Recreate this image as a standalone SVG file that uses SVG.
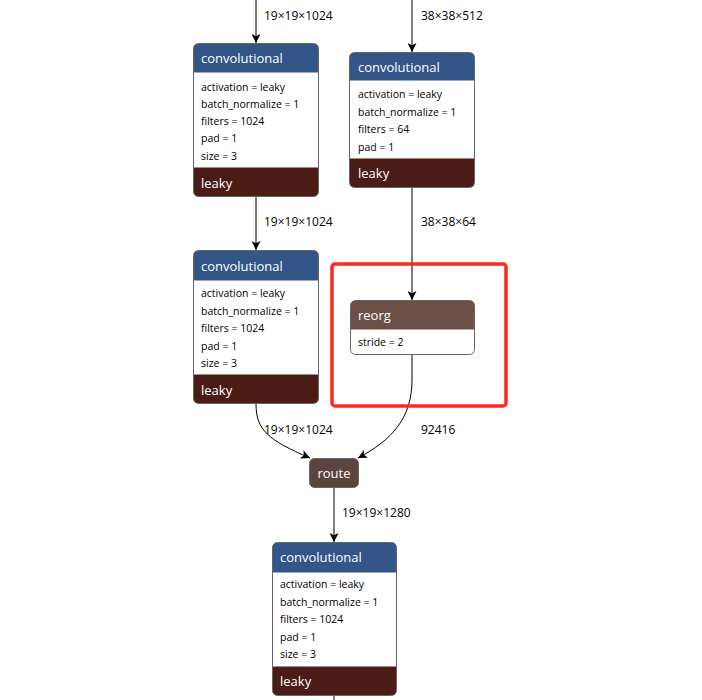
<svg xmlns="http://www.w3.org/2000/svg" width="702" height="700" viewBox="0 0 702 700">
<defs>
<style>
text{font-family:"Open Sans","Noto Sans","DejaVu Sans",sans-serif}
.hd{fill:#fff;font-size:13px}
.at{fill:#000;font-size:10.5px}
.lb{fill:#000;font-size:12px}
.box{fill:#fff;stroke:#666;stroke-width:1}
.conv{fill:#335588}
.act{fill:#4b1b16}
.reorg{fill:#6c4f47}
.route{fill:#5b443d}
.edge{fill:none;stroke:#000;stroke-width:1}
</style>
<marker id="ah" viewBox="0 0 10 10" refX="10" refY="5" markerWidth="9" markerHeight="9" markerUnits="userSpaceOnUse" orient="auto">
<path d="M0,0 L10,5 L0,10 L2.5,5 z" fill="#000"/>
</marker>
<clipPath id="c1"><rect x="193.5" y="43.5" width="125" height="153" rx="5"/></clipPath>
<clipPath id="c2"><rect x="349.5" y="52.5" width="125" height="135" rx="5"/></clipPath>
<clipPath id="c3"><rect x="193.5" y="250.5" width="125" height="153" rx="5"/></clipPath>
<clipPath id="c4"><rect x="350.5" y="300.5" width="124" height="54" rx="5"/></clipPath>
<clipPath id="c6"><rect x="272.5" y="542.5" width="124" height="153" rx="5"/></clipPath>
</defs>
<rect width="702" height="700" fill="#fff"/>

<g id="edges">
<path class="edge" d="M256,0 L256,43" marker-end="url(#ah)"/>
<path class="edge" d="M412,0 L412,52" marker-end="url(#ah)"/>
<path class="edge" d="M256,197 L256,250" marker-end="url(#ah)"/>
<path class="edge" d="M412,188 L412,300" marker-end="url(#ah)"/>
<path class="edge" d="M256,404 C256,430 268,440 310,458" marker-end="url(#ah)"/>
<path class="edge" d="M412,355 L412,380 C412,418 392,440 358,458" marker-end="url(#ah)"/>
<path class="edge" d="M334,488 L334,542" marker-end="url(#ah)"/>
<path class="edge" d="M334,696 L334,700"/>
<text class="lb" x="264" y="20">19×19×1024</text>
<text class="lb" x="421" y="20">38×38×512</text>
<text class="lb" x="264" y="226">19×19×1024</text>
<text class="lb" x="421" y="226">38×38×64</text>
<text class="lb" x="264" y="434">19×19×1024</text>
<text class="lb" x="421" y="434">92416</text>
<text class="lb" x="342" y="517">19×19×1280</text>
</g>

<g id="conv1">
<g clip-path="url(#c1)">
<rect x="193.5" y="43.5" width="125" height="153" fill="#fff"/>
<rect class="conv" x="193.5" y="43.5" width="125" height="29"/>
<rect class="act" x="193.5" y="167.5" width="125" height="29"/>
</g>
<rect class="box" x="193.5" y="43.5" width="125" height="153" rx="5" style="fill:none"/>
<text class="hd" x="201" y="63">convolutional</text>
<text class="at" x="201" y="91">activation = leaky</text>
<text class="at" x="201" y="108">batch_normalize = 1</text>
<text class="at" x="201" y="125">filters = 1024</text>
<text class="at" x="201" y="142">pad = 1</text>
<text class="at" x="201" y="160">size = 3</text>
<text class="hd" x="201" y="188">leaky</text>
</g>

<g id="conv2">
<g clip-path="url(#c2)">
<rect x="349.5" y="52.5" width="125" height="135" fill="#fff"/>
<rect class="conv" x="349.5" y="52.5" width="125" height="28"/>
<rect class="act" x="349.5" y="158.5" width="125" height="29"/>
</g>
<rect class="box" x="349.5" y="52.5" width="125" height="135" rx="5" style="fill:none"/>
<text class="hd" x="358" y="72">convolutional</text>
<text class="at" x="358" y="98">activation = leaky</text>
<text class="at" x="358" y="116">batch_normalize = 1</text>
<text class="at" x="358" y="133">filters = 64</text>
<text class="at" x="358" y="151">pad = 1</text>
<text class="hd" x="358" y="178">leaky</text>
</g>

<g id="conv3">
<g clip-path="url(#c3)">
<rect x="193.5" y="250.5" width="125" height="153" fill="#fff"/>
<rect class="conv" x="193.5" y="250.5" width="125" height="30"/>
<rect class="act" x="193.5" y="374.5" width="125" height="29"/>
</g>
<rect class="box" x="193.5" y="250.5" width="125" height="153" rx="5" style="fill:none"/>
<text class="hd" x="201" y="271">convolutional</text>
<text class="at" x="201" y="297">activation = leaky</text>
<text class="at" x="201" y="315">batch_normalize = 1</text>
<text class="at" x="201" y="332">filters = 1024</text>
<text class="at" x="201" y="350">pad = 1</text>
<text class="at" x="201" y="367">size = 3</text>
<text class="hd" x="201" y="395">leaky</text>
</g>

<g id="reorg">
<g clip-path="url(#c4)">
<rect x="350.5" y="300.5" width="124" height="54" fill="#fff"/>
<rect class="reorg" x="350.5" y="300.5" width="124" height="29"/>
</g>
<rect class="box" x="350.5" y="300.5" width="124" height="54" rx="5" style="fill:none"/>
<text class="hd" x="358" y="320">reorg</text>
<text class="at" x="358" y="346">stride = 2</text>
</g>

<g id="highlight">
<rect x="332" y="264" width="174" height="142" rx="3" fill="none" stroke="#ff2a1f" stroke-width="3.5"/>
</g>

<g id="route">
<rect class="route" x="309.5" y="458.5" width="49" height="29" rx="5" stroke="#666" stroke-width="1"/>
<text class="hd" x="334" y="478" text-anchor="middle">route</text>
</g>

<g id="conv4">
<g clip-path="url(#c6)">
<rect x="272.5" y="542.5" width="124" height="153" fill="#fff"/>
<rect class="conv" x="272.5" y="542.5" width="124" height="30"/>
<rect class="act" x="272.5" y="666.5" width="124" height="29"/>
</g>
<rect class="box" x="272.5" y="542.5" width="124" height="153" rx="5" style="fill:none"/>
<text class="hd" x="280" y="562">convolutional</text>
<text class="at" x="280" y="588">activation = leaky</text>
<text class="at" x="280" y="606">batch_normalize = 1</text>
<text class="at" x="280" y="623">filters = 1024</text>
<text class="at" x="280" y="641">pad = 1</text>
<text class="at" x="280" y="658">size = 3</text>
<text class="hd" x="280" y="686">leaky</text>
</g>
</svg>
